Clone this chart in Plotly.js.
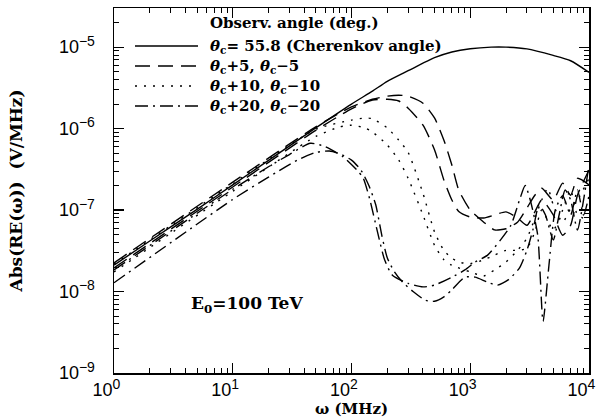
<!DOCTYPE html>
<html><head><meta charset="utf-8">
<script src="https://cdn.plot.ly/plotly-3.0.1.min.js"></script>
<style>html,body{margin:0;padding:0;background:#fff}#chart{width:600px;height:418px}</style>
</head><body><div id="chart"></div>
<script>
// ---- data ----
const omegaSolid = [1, 2, 5, 10, 20, 50, 100, 150, 200, 300, 500, 700, 1000, 1500, 2000, 3000, 5000, 7000, 10000];
const vSolid = [2.11e-8, 4.17e-8, 1.02e-7, 2.04e-7, 4.07e-7, 1.02e-6, 2.0e-6, 2.88e-6, 3.8e-6, 5.13e-6, 7.41e-6, 8.71e-6, 9.55e-6, 1.0e-5, 1.0e-5, 9.5e-6, 7.9e-6, 6.8e-6, 4.9e-6];

const omegaDashA = [1, 10, 50, 100, 150, 200, 250, 300, 400, 500, 600, 700, 800, 1000, 1300, 1600, 2000, 2500, 3000, 3500, 4000, 5000, 6000, 7000, 8000, 10000];
const vDashA = [2.25e-8, 2.2e-7, 1.05e-6, 1.85e-6, 2.29e-6, 2.5e-6, 2.57e-6, 2.5e-6, 2.05e-6, 1.35e-6, 7.2e-7, 3.57e-7, 1.76e-7, 1.0e-7, 7.1e-8, 5.7e-8, 5.9e-8, 7.1e-8, 1.06e-7, 1.52e-7, 1.85e-7, 1.33e-7, 2.14e-7, 1.52e-7, 2.45e-7, 2.04e-7];

const omegaDashB = [1, 10, 50, 100, 150, 200, 250, 300, 400, 500, 600, 700, 800, 1000, 1300, 1600, 2000, 2500, 3000, 3500, 4000, 5000, 6000, 7000, 8000, 10000];
const vDashB = [1.95e-8, 1.92e-7, 9.5e-7, 1.75e-6, 2.24e-6, 2.29e-6, 2.18e-6, 1.78e-6, 1.1e-6, 5.5e-7, 2.33e-7, 1.33e-7, 9.6e-8, 8.2e-8, 8.0e-8, 8.7e-8, 9.5e-8, 8.0e-8, 6.5e-8, 9.5e-8, 1.33e-7, 8.7e-8, 4.9e-8, 6.5e-8, 1.52e-7, 3.1e-7];

const omegaDotA = [1, 10, 50, 100, 130, 150, 200, 250, 300, 400, 500, 600, 700, 800, 1000, 1300, 1600, 2000, 2500, 3000, 3500, 4000, 5000, 6000, 7000, 8000, 10000];
const vDotA = [2.17e-8, 2.1e-7, 9.8e-7, 1.27e-6, 1.35e-6, 1.32e-6, 1.02e-6, 7.2e-7, 5.1e-7, 1.6e-7, 5.4e-8, 3.2e-8, 2.57e-8, 2.3e-8, 2.2e-8, 2.45e-8, 2.8e-8, 3.2e-8, 3.2e-8, 3.4e-8, 5.4e-8, 1.0e-7, 5.7e-8, 1.0e-7, 1.76e-7, 8.7e-8, 7.5e-8];

const omegaDotB = [1, 10, 50, 80, 100, 130, 150, 200, 250, 300, 400, 500, 600, 700, 1000, 1300, 1600, 2000, 2500, 3000, 3500, 4000, 4500, 5000, 6000, 7000, 8000, 10000];
const vDotB = [1.74e-8, 1.7e-7, 8.0e-7, 1.05e-6, 1.1e-6, 1.02e-6, 9.1e-7, 6.3e-7, 4.1e-7, 2.45e-7, 8.7e-8, 3.7e-8, 2.45e-8, 2.1e-8, 1.74e-8, 1.55e-8, 1.84e-8, 2.3e-8, 3.2e-8, 4.5e-8, 7.9e-8, 1.33e-7, 1.85e-7, 1.16e-7, 7.1e-8, 1.05e-7, 1.33e-7, 2.45e-7];

const omegaDDA = [1, 10, 20, 30, 45, 60, 85, 111, 125, 143, 164, 190, 220, 300, 400, 500, 700, 900, 1100, 1400, 1800, 2200, 2600, 2900, 3200, 3700, 4100, 4600, 5200, 6000, 7000, 8000, 9000, 10000];
const vDDA = [1.84e-8, 1.8e-7, 3.4e-7, 4.8e-7, 6.6e-7, 6.0e-7, 4.5e-7, 3.1e-7, 2.5e-7, 1.33e-7, 5.7e-8, 2.45e-8, 1.6e-8, 1.26e-8, 1.14e-8, 1.2e-8, 1.5e-8, 1.84e-8, 2.3e-8, 2.8e-8, 4.3e-8, 6.5e-8, 1.33e-7, 2.0e-7, 1.33e-7, 4.9e-8, 4.3e-9, 2.1e-8, 1.0e-7, 1.5e-7, 8.7e-8, 1.76e-7, 8.7e-8, 1.5e-7];

const omegaDDB = [1, 10, 20, 35, 50, 65, 80, 100, 120, 140, 160, 180, 200, 230, 270, 330, 420, 500, 600, 700, 900, 1100, 1400, 1700, 2100, 2600, 3000, 3400, 3800, 4300, 5000, 5600, 6300, 7000, 8000, 9000, 10000];
const vDDB = [1.28e-8, 1.35e-7, 2.54e-7, 4.1e-7, 5.1e-7, 5.3e-7, 4.9e-7, 4.1e-7, 3.1e-7, 2.0e-7, 1.16e-7, 4.9e-8, 2.6e-8, 1.74e-8, 1.3e-8, 1.0e-8, 7.8e-9, 7.6e-9, 8.6e-9, 1.05e-8, 1.5e-8, 1.5e-8, 1.3e-8, 1.2e-8, 1.4e-8, 1.95e-8, 3.2e-8, 6.0e-8, 1.16e-7, 8.7e-8, 4.3e-8, 8.7e-8, 1.76e-7, 1.33e-7, 5.7e-8, 1.33e-7, 3.6e-7];

const xTickVals = [1, 10, 100, 1000, 10000];
const xTickExp = ['0', '1', '2', '3', '4'];
const yTickVals = [1e-9, 1e-8, 1e-7, 1e-6, 1e-5];
const yTickExp = ['−9', '−8', '−7', '−6', '−5'];

const legendTitle = 'Observ. angle (deg.)';
const legendLabels = [
  '<i>θ</i><sub>c</sub>= 55.8 (Cherenkov angle)',
  '<i>θ</i><sub>c</sub>+5, <i>θ</i><sub>c</sub>−5',
  '<i>θ</i><sub>c</sub>+10, <i>θ</i><sub>c</sub>−10',
  '<i>θ</i><sub>c</sub>+20, <i>θ</i><sub>c</sub>−20'
];
const energyLabel = 'E<sub>0</sub>=100 TeV';
const xTitle = 'ω (MHz)';
const yTitle = 'Abs(RE(ω))  (V/MHz)';

// ---- styles ----
const SUP = e => '10<sup><span style="font-size:14px">' + e + '</span></sup>';
const XLAB = e => SUP(e) + '\u00a0\u00a0\u00a0';
const DASH = {solid: 'solid', dashed: '15px,8px', dotted: '2px,7px', dashdot: '13px,5px,2px,5px'};
const LW = 1.4;
function tr(x, y, dash) {
  return {x: x, y: y, type: 'scatter', mode: 'lines', showlegend: false,
    line: {color: '#000', width: LW, dash: dash, shape: 'spline', smoothing: 0.6}, hoverinfo: 'skip'};
}
const data = [
  tr(omegaSolid, vSolid, DASH.solid),
  tr(omegaDashA, vDashA, DASH.dashed),
  tr(omegaDashB, vDashB, DASH.dashed),
  tr(omegaDotA, vDotA, DASH.dotted),
  tr(omegaDotB, vDotB, DASH.dotted),
  tr(omegaDDA, vDDA, DASH.dashdot),
  tr(omegaDDB, vDDB, DASH.dashdot)
];

function minorTicks(lo, hi) {
  const out = [];
  for (let e = lo; e < hi; e++) for (let m = 2; m <= 9; m++) out.push(m * Math.pow(10, e));
  return out;
}

// plot area: x 114..589, y 8..373
const PL = 114, PR = 589, PT = 8, PB = 373;
const px = v => (v - PL) / (PR - PL);
const py = v => (PB - v) / (PB - PT);

const TXT = {family: 'DejaVu Serif', size: 15, color: '#000'};
const legendY = [46, 66, 86, 106];
const legendDash = [DASH.solid, DASH.dashed, DASH.dotted, DASH.dashdot];
const shapes = legendY.map((yy, i) => ({type: 'line', xref: 'paper', yref: 'paper',
  x0: px(135), x1: px(198), y0: py(yy), y1: py(yy), line: {color: '#000', width: LW, dash: legendDash[i]}}));
const annotations = [
  {xref: 'paper', yref: 'paper', x: px(208), y: py(23), xanchor: 'left', yanchor: 'middle', showarrow: false, text: '<b>' + legendTitle + '</b>', font: TXT}
].concat(legendY.map((yy, i) => ({xref: 'paper', yref: 'paper', x: px(208), y: py(yy), xanchor: 'left', yanchor: 'middle', showarrow: false, text: '<b>' + legendLabels[i] + '</b>', font: TXT})))
 .concat([{xref: 'paper', yref: 'paper', x: px(189), y: py(304), xanchor: 'left', yanchor: 'middle', showarrow: false, text: '<b>' + energyLabel + '</b>', font: {family: 'DejaVu Serif', size: 17, color: '#000'}}]);

const axisCommon = {
  type: 'log', showgrid: false, zeroline: false, showline: true, linecolor: '#000', linewidth: 1.5,
  mirror: 'ticks', ticks: 'inside', ticklen: 10, tickwidth: 1.2, tickcolor: '#000', tickmode: 'array',
  ticklabeloverflow: 'allow',
  tickfont: {family: 'Liberation Sans', size: 18, color: '#000'}
};
const layout = {
  width: 600, height: 418,
  margin: {l: PL, r: 600 - PR, t: PT, b: 418 - PB},
  paper_bgcolor: '#fff', plot_bgcolor: '#fff',
  showlegend: false,
  xaxis: Object.assign({}, axisCommon, {
    range: [0, 4], tickvals: xTickVals, ticktext: xTickExp.map(XLAB), ticklabelstandoff: 0,
    minor: {tickmode: 'array', tickvals: minorTicks(0, 4), ticks: 'inside', ticklen: 5, tickwidth: 1, tickcolor: '#000', showgrid: false},
    title: {text: '<b>' + xTitle + '</b>', font: {family: 'DejaVu Serif', size: 15, color: '#000'}, standoff: 3}
  }),
  yaxis: Object.assign({}, axisCommon, {
    range: [-9, -4.52], tickvals: yTickVals, ticktext: yTickExp.map(SUP), ticklabelstandoff: 14,
    minor: {tickmode: 'array', tickvals: minorTicks(-9, -4), ticks: 'inside', ticklen: 5, tickwidth: 1, tickcolor: '#000', showgrid: false},
    title: {text: '<b>' + yTitle + '</b>', font: {family: 'DejaVu Serif', size: 17, color: '#000'}, standoff: 32}
  }),
  shapes: shapes,
  annotations: annotations
};
Plotly.newPlot('chart', data, layout, {staticPlot: true, displayModeBar: false});
</script></body></html>
